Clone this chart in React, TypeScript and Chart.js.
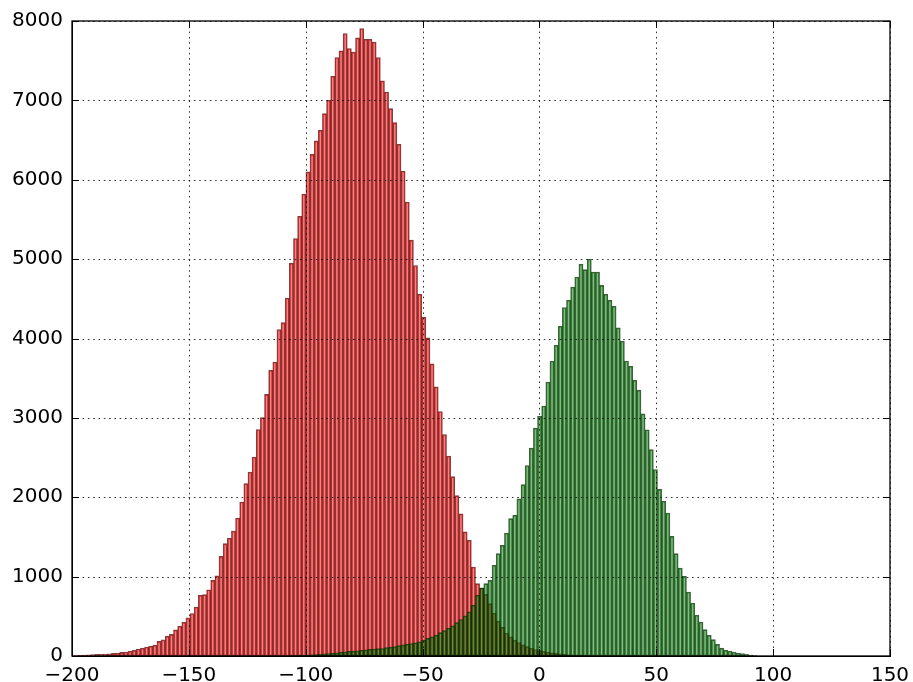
import React, { useEffect, useRef } from "react";
import { Chart, registerables } from "chart.js";

Chart.register(...registerables);

// Histogram bin grid (shared by both series)
const BIN_START = -199.05;
const BIN_WIDTH = 1.77;

// Axis ticks
const X_TICKS = [-200, -150, -100, -50, 0, 50, 100, 150];
const Y_TICKS = [0, 1000, 2000, 3000, 4000, 5000, 6000, 7000, 8000];

// Red series: counts per bin, starting at bin index RED_FIRST_BIN
const RED_FIRST_BIN = 0;
const RED_COUNTS = [
  5, 8, 12, 15, 18, 20, 22, 25, 28, 34,
  38, 45, 50, 62, 72, 88, 100, 113, 125, 138,
  185, 205, 250, 273, 330, 375, 425, 480, 535, 617,
  765, 773, 835, 953, 1010, 1256, 1416, 1483, 1575, 1739,
  1940, 2172, 2318, 2507, 2853, 3004, 3297, 3600, 3704, 4113,
  4200, 4510, 4950, 5260, 5540, 5820, 6100, 6320, 6489, 6624,
  6834, 7002, 7304, 7540, 7623, 7842, 7653, 7610, 7787, 7905,
  7770, 7770, 7736, 7540, 7245, 7106, 6896, 6720, 6447, 6110,
  5720, 5240, 4920, 4560, 4270, 4010, 3680, 3390, 3080, 2790,
  2520, 2260, 2020, 1790, 1563, 1458, 1121, 912, 853, 777,
  660, 540, 440, 360, 290, 240, 200, 170, 140, 118,
  98, 82, 68, 58, 48, 40, 33, 26, 20, 15,
  11, 8, 6, 4, 2,
];

// Green series: counts per bin, starting at bin index GREEN_FIRST_BIN
const GREEN_FIRST_BIN = 52;
const GREEN_COUNTS = [
  3, 5, 7, 10, 12, 15, 18, 22, 26, 30,
  35, 40, 48, 52, 58, 62, 66, 72, 78, 85,
  88, 92, 95, 105, 112, 120, 130, 140, 150, 158,
  165, 180, 200, 222, 240, 265, 295, 320, 350, 380,
  420, 460, 505, 555, 640, 765, 860, 912, 954, 1143,
  1290, 1395, 1550, 1731, 1773, 1980, 2160, 2400, 2620, 2870,
  3020, 3150, 3452, 3717, 3915, 4154, 4390, 4482, 4649, 4775,
  4935, 4868, 4998, 4838, 4838, 4670, 4557, 4482, 4406, 4133,
  3969, 3717, 3650, 3474, 3350, 3050, 2850, 2600, 2350, 2100,
  1950, 1800, 1508, 1290, 1109, 1004, 806, 668, 513, 428,
  333, 261, 207, 147, 100, 72, 63, 50, 38, 30,
  21, 12, 6,
];

const toPoints = (counts: number[], firstBin: number) =>
  counts.map((c, k) => ({ x: BIN_START + (firstBin + k + 0.5) * BIN_WIDTH, y: c }));

const fmt = (v: number) => (v < 0 ? "\u2212" + Math.abs(v) : String(v));

const FONT = { family: "'DejaVu Sans', sans-serif", size: 20 };

// Draws dotted grid over the bars (as in the reference), the full frame and inward ticks.
const framePlugin = {
  id: "frameAndInwardTicks",
  afterDatasetsDraw(chart: any) {
    const { ctx, chartArea: a, scales } = chart;
    ctx.save();
    ctx.strokeStyle = "rgba(0,0,0,0.8)";
    ctx.lineWidth = 1;
    ctx.setLineDash([1.6, 3.7]);
    ctx.beginPath();
    X_TICKS.forEach((v) => {
      const px = Math.round(scales.x.getPixelForValue(v)) + 0.5;
      ctx.moveTo(px, a.top);
      ctx.lineTo(px, a.bottom);
    });
    Y_TICKS.forEach((v) => {
      const py = Math.round(scales.y.getPixelForValue(v)) + 0.5;
      ctx.moveTo(a.left, py);
      ctx.lineTo(a.right, py);
    });
    ctx.stroke();
    ctx.restore();
  },
  afterDraw(chart: any) {
    const { ctx, chartArea: a, scales } = chart;
    ctx.save();
    ctx.strokeStyle = "#000";
    ctx.lineWidth = 1;
    const L = 7;
    ctx.beginPath();
    X_TICKS.forEach((v) => {
      const px = Math.round(scales.x.getPixelForValue(v)) + 0.5;
      ctx.moveTo(px, a.bottom);
      ctx.lineTo(px, a.bottom - L);
      ctx.moveTo(px, a.top);
      ctx.lineTo(px, a.top + L);
    });
    Y_TICKS.forEach((v) => {
      const py = Math.round(scales.y.getPixelForValue(v)) + 0.5;
      ctx.moveTo(a.left, py);
      ctx.lineTo(a.left + L, py);
      ctx.moveTo(a.right, py);
      ctx.lineTo(a.right - L, py);
    });
    ctx.stroke();
    ctx.lineWidth = 1.3;
    ctx.strokeRect(a.left, a.top, a.right - a.left, a.bottom - a.top);
    ctx.restore();
  },
};

export default function App() {
  const ref = useRef<HTMLCanvasElement | null>(null);
  useEffect(() => {
    if (!ref.current) return;
    const chart = new Chart(ref.current, {
      type: "bar",
      data: {
        datasets: [
          {
            label: "green",
            data: toPoints(GREEN_COUNTS, GREEN_FIRST_BIN) as any,
            backgroundColor: "rgba(0,128,0,0.5)",
            borderColor: "rgba(0,43,0,0.75)",
            borderWidth: 1,
            borderSkipped: false,
            order: 0,
            grouped: false,
            barPercentage: 1,
            categoryPercentage: 1,
          } as any,
          {
            label: "red",
            data: toPoints(RED_COUNTS, RED_FIRST_BIN) as any,
            backgroundColor: "rgba(255,0,0,0.5)",
            borderColor: "rgba(85,0,0,0.75)",
            borderWidth: 1,
            borderSkipped: false,
            order: 1,
            grouped: false,
            barPercentage: 1,
            categoryPercentage: 1,
          } as any,
        ],
      },
      options: {
        responsive: false,
        animation: false,
        layout: { padding: { top: 21, right: 23, left: 0, bottom: 0 } },
        plugins: { legend: { display: false }, tooltip: { enabled: false } },
        scales: {
          x: {
            type: "linear",
            min: -200,
            max: 150,
            offset: false,
            afterBuildTicks: (s: any) => {
              s.ticks = X_TICKS.map((v) => ({ value: v }));
            },
            ticks: {
              callback: (v: any) => fmt(Number(v)),
              font: FONT,
              color: "#000",
              padding: 8,
              maxRotation: 0,
              autoSkip: false,
            },
            grid: { display: false, drawTicks: false, offset: false },
            border: { display: true, color: "#000", width: 1 },
            afterFit: (s: any) => {
              s.height = 26;
              s.paddingLeft = 0;
              s.paddingRight = 0;
            },
          },
          y: {
            type: "linear",
            min: 0,
            max: 8000,
            afterBuildTicks: (s: any) => {
              s.ticks = Y_TICKS.map((v) => ({ value: v }));
            },
            ticks: {
              callback: (v: any) => fmt(Number(v)),
              font: FONT,
              color: "#000",
              padding: 9,
              autoSkip: false,
            },
            grid: { display: false, drawTicks: false },
            border: { display: true, color: "#000", width: 1 },
            afterFit: (s: any) => {
              s.width = 72;
              s.paddingTop = 0;
              s.paddingBottom = 0;
            },
          },
        },
      } as any,
      plugins: [framePlugin],
    });
    return () => chart.destroy();
  }, []);
  return (
    <div style={{ position: "fixed", left: 0, top: 0, width: 913, height: 682, background: "#fff" }}>
      <canvas ref={ref} width={913} height={682} style={{ display: "block" }} />
    </div>
  );
}
